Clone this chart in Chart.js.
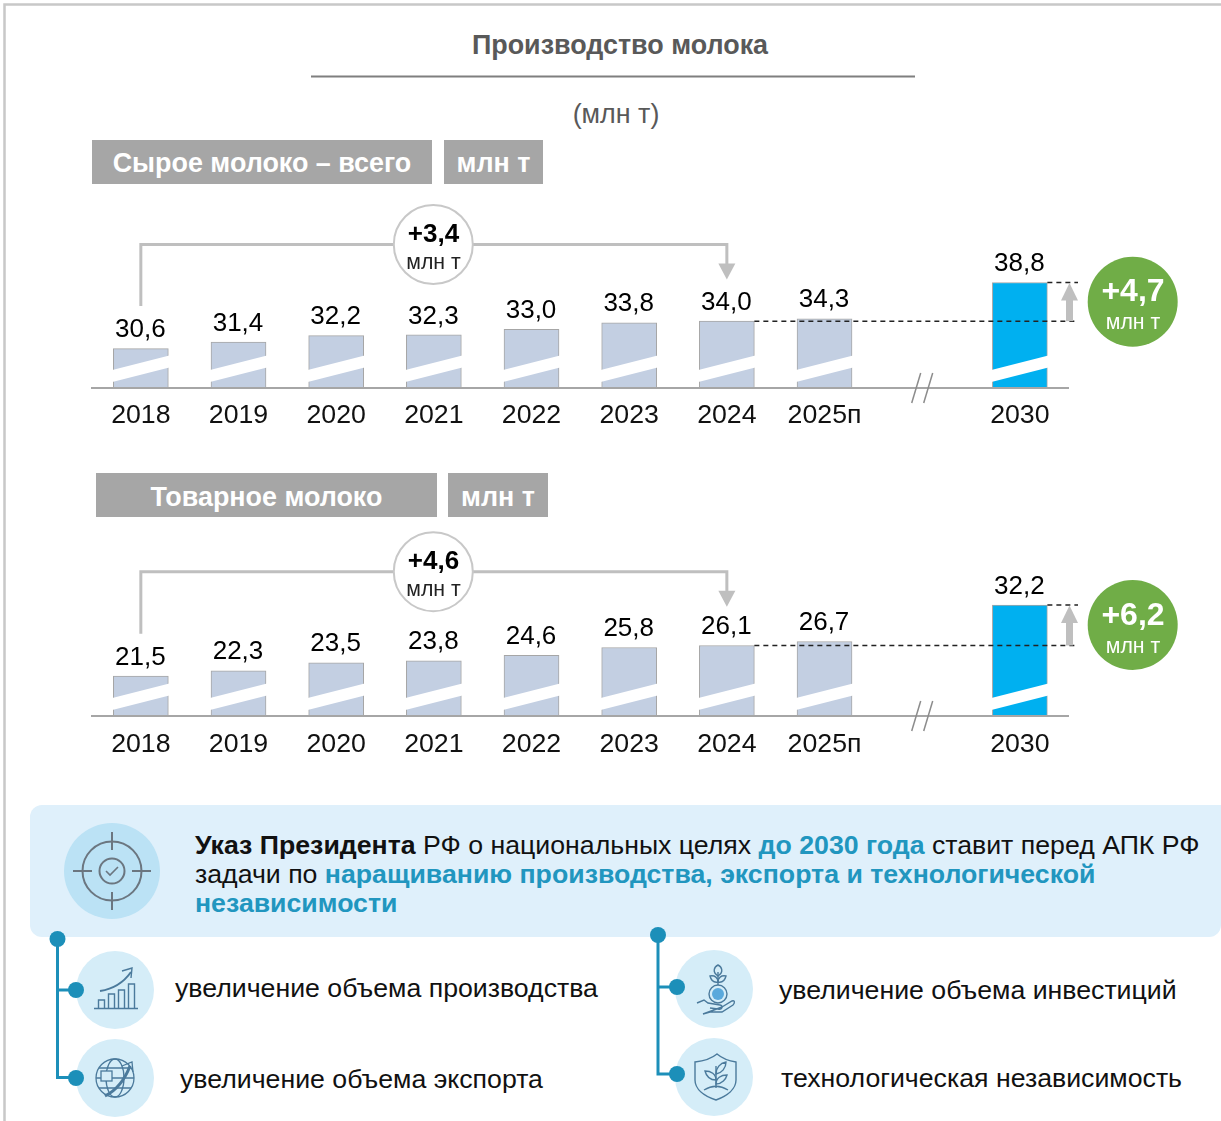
<!DOCTYPE html>
<html>
<head>
    <meta charset="utf-8">
    <title>Производство молока</title>
    <script src="https://cdn.jsdelivr.net/npm/chart.js"></script>
    <style>
        html, body { margin: 0; padding: 0; background: #fff; }
        body { position: relative; width: 1221px; height: 1121px; overflow: hidden; font-family: "Liberation Sans", Arial, sans-serif; }
        svg.layer { position: absolute; left: 0; top: 0; }
        .chart-box { position: absolute; left: 0; width: 1221px; height: 240px; }
        .t { position: absolute; white-space: nowrap; line-height: 1; transform: translateY(-50%); }
        .c { transform: translate(-50%, -50%); }
        .tag { position: absolute; background: #a6a6a6; color: #fff; font-weight: bold; font-size: 26.9px; height: 44px; line-height: 47px; text-align: center; white-space: nowrap; }
        b.blue { color: #2196bf; }
    </style>
</head>
<body>
    <svg class="layer" width="1221" height="1121">
        <path d="M4.5 1121V4.5H1221" fill="none" stroke="#c8c8c8" stroke-width="2.5"/>
        <line x1="311" y1="76.5" x2="915" y2="76.5" stroke="#7f7f7f" stroke-width="2"/>
        <path d="M30 817a12 12 0 0 1 12-12H1221V925a12 12 0 0 1-12 12H42a12 12 0 0 1-12-12z" fill="#dff0fb"/>
        <circle cx="112" cy="871" r="48" fill="#bbe2f5"/>
        <g fill="none" stroke="#6b7680" stroke-width="2">
            <circle cx="112" cy="871" r="29.5"/>
            <circle cx="112" cy="871" r="12.5"/>
            <path d="M112 832V850M112 892V910M73 871H92M132 871H151"/>
            <path d="M106 871l4 4 8-8" stroke-width="1.6"/>
        </g>
        <circle cx="115" cy="990" r="39" fill="#d5edf8"/>
        <circle cx="115" cy="1078" r="39" fill="#d5edf8"/>
        <circle cx="714" cy="989" r="39" fill="#d5edf8"/>
        <circle cx="714" cy="1077" r="39" fill="#d5edf8"/>
        <g fill="none" stroke="#1c8fb9" stroke-width="3">
            <path d="M57.5 939V1077.5H76M57.5 990H76"/>
            <path d="M658 935V1074H677M658 987H677"/>
        </g>
        <g fill="#1c8fb9">
            <circle cx="57.5" cy="939" r="8"/><circle cx="76" cy="990" r="8"/><circle cx="76" cy="1078" r="8"/>
            <circle cx="658" cy="935" r="8"/><circle cx="677" cy="987" r="8"/><circle cx="677" cy="1074" r="8"/>
        </g>
        <!-- bars icon -->
        <g fill="none" stroke="#4b7a9c" stroke-width="1.4">
            <path d="M94 1008.5H138"/>
            <path d="M98.5 1008V1000H104.5V1008M108.5 1008V994H114.5V1008M118.5 1008V990H124.5V1008M128.5 1008V984H134.5V1008"/>
            <path d="M100 991C113 989 124 982 131 972" stroke-width="2"/>
            <path d="M122 971L132 968 131 978"/>
        </g>
        <!-- globe icon -->
        <g fill="none" stroke="#4b7a9c" stroke-width="1.3">
            <circle cx="115" cy="1078" r="19"/>
            <ellipse cx="115" cy="1078" rx="9" ry="19"/>
            <path d="M96 1078H134M99 1068H131M99 1088H131"/>
            <path d="M105 1096C117 1090 125 1079 130 1066" stroke-width="3"/>
            <path d="M122 1066L132 1062 133 1072"/>
            <rect x="101" y="1071" width="11" height="10" fill="#d5edf8"/>
        </g>
        <!-- plant in hand icon -->
        <g fill="none" stroke="#4b7a9c" stroke-width="1.4">
            <circle cx="718" cy="994" r="9"/>
            <circle cx="718" cy="994" r="6" fill="#5aa9dc" stroke="none"/>
            <path d="M718 985V972"/>
            <path d="M718 976C712 972 714 967 718 965 722 967 724 972 718 976Z"/>
            <path d="M718 982C713 983 711 980 710 976 715 975 718 978 718 982ZM718 982C723 983 725 980 726 976 721 975 718 978 718 982Z"/>
            <path d="M697 1003L704 1000 708 1003 720 1005C724 1006 722 1010 718 1009L710 1008M722 1007L732 1001C735 1000 735 1003 733 1005L722 1012 710 1012 703 1014Z"/>
        </g>
        <!-- shield icon -->
        <g fill="none" stroke="#4b7a9c" stroke-width="1.4">
            <path d="M695 1062C704 1061 711 1059 717 1054 723 1059 729 1061 736 1062V1080C736 1089 727 1096 716 1100 704 1096 695 1089 695 1080Z"/>
            <path d="M716 1088V1066"/>
            <path d="M716 1080C709 1080 706 1075 705 1071 711 1071 716 1074 716 1080ZM716 1074C722 1073 726 1068 726 1062 720 1063 716 1068 716 1074ZM716 1084C722 1084 726 1079 727 1075 721 1075 716 1078 716 1084Z"/>
            <path d="M704 1090C712 1085 720 1085 728 1090"/>
        </g>
    </svg>

    <div class="chart-box" style="top: 200px;"><canvas id="chart-raw"></canvas></div>
    <div class="chart-box" style="top: 528px;"><canvas id="chart-market"></canvas></div>

    <div class="t c" style="left: 620px; top: 45px; font-size: 26.9px; font-weight: bold; color: #595959;">Производство молока</div>
    <div class="t c" style="left: 616px; top: 114px; font-size: 26.9px; color: #595959;">(млн т)</div>

    <div class="tag" style="left: 92px; top: 140px; width: 340px;">Сырое молоко – всего</div>
    <div class="tag" style="left: 444px; top: 140px; width: 99px;">млн т</div>
    <div class="tag" style="left: 96px; top: 473px; width: 341px; line-height: 48px;">Товарное молоко</div>
    <div class="tag" style="left: 448px; top: 473px; width: 100px; line-height: 48px;">млн т</div>

    <div class="t c" style="left: 433.5px; top: 233px; font-size: 26px; font-weight: bold; color: #000;">+3,4</div>
    <div class="t c" style="left: 433.5px; top: 263px; font-size: 21.3px; color: #222;">млн т</div>
    <div class="t c" style="left: 433.5px; top: 560px; font-size: 26px; font-weight: bold; color: #000;">+4,6</div>
    <div class="t c" style="left: 433.5px; top: 590px; font-size: 21.3px; color: #222;">млн т</div>

    <div class="t c" style="left: 1133px; top: 290px; font-size: 32px; font-weight: bold; color: #fff;">+4,7</div>
    <div class="t c" style="left: 1133px; top: 323px; font-size: 21.3px; color: #fff;">млн т</div>
    <div class="t c" style="left: 1133px; top: 614px; font-size: 32px; font-weight: bold; color: #fff;">+6,2</div>
    <div class="t c" style="left: 1133px; top: 647px; font-size: 21.3px; color: #fff;">млн т</div>

    <div class="t" style="left: 195px; top: 845px; font-size: 26.7px; color: #111;"><b>Указ Президента</b> РФ о национальных целях <b class="blue">до 2030 года</b> ставит перед АПК РФ</div>
    <div class="t" style="left: 195px; top: 874px; font-size: 26.7px; color: #111;">задачи по <b class="blue">наращиванию производства, экспорта и технологической</b></div>
    <div class="t" style="left: 195px; top: 903px; font-size: 26.7px;"><b class="blue">независимости</b></div>

    <div class="t" style="left: 175px; top: 988px; font-size: 26.7px; color: #111;">увеличение объема производства</div>
    <div class="t" style="left: 180px; top: 1079px; font-size: 26.7px; color: #111;">увеличение объема экспорта</div>
    <div class="t" style="left: 779px; top: 990px; font-size: 26.7px; color: #111;">увеличение объема инвестиций</div>
    <div class="t" style="left: 781px; top: 1078px; font-size: 26.7px; color: #111;">технологическая независимость</div>

    <script>
        'use strict';

        const categories = ['2018', '2019', '2020', '2021', '2022', '2023', '2024', '2025п', '', '2030'];
        const rawMilk = [30.6, 31.4, 32.2, 32.3, 33.0, 33.8, 34.0, 34.3, null, 38.8];
        const marketMilk = [21.5, 22.3, 23.5, 23.8, 24.6, 25.8, 26.1, 26.7, null, 32.2];

        const barColor = '#c3cfe2';
        const targetColor = '#00b0f0';
        const edgeColor = '#a6a6a6';
        const bracketColor = '#bfbfbf';
        const fontFamily = '"Liberation Sans", Arial, sans-serif';

        // White diagonal break across every bar, plus value labels on top
        const barDecor = {
            id: 'barDecor',
            afterDatasetsDraw(chart) {
                const ctx = chart.ctx;
                const base = chart.scales.y.bottom;
                const meta = chart.getDatasetMeta(0);
                ctx.save();
                meta.data.forEach(function (bar, i) {
                    const value = chart.data.datasets[0].data[i];
                    if (value === null) return;
                    const left = bar.x - 28.5;
                    const right = bar.x + 28.5;
                    ctx.fillStyle = '#fff';
                    ctx.beginPath();
                    ctx.moveTo(left, base - 18);
                    ctx.lineTo(right, base - 32.5);
                    ctx.lineTo(right, base - 20.5);
                    ctx.lineTo(left, base - 6);
                    ctx.closePath();
                    ctx.fill();

                    ctx.fillStyle = '#000';
                    ctx.font = '26px ' + fontFamily;
                    ctx.textAlign = 'center';
                    ctx.textBaseline = 'middle';
                    ctx.fillText(value.toFixed(1).replace('.', ','), bar.x - 0.5, bar.y - 18.5);
                });
                ctx.restore();
            }
        };

        // Bracket, break in the axis, reference lines and growth badge
        const overlay = {
            id: 'overlay',
            afterDraw(chart) {
                const ctx = chart.ctx;
                const x = chart.scales.x;
                const y = chart.scales.y;
                const data = chart.data.datasets[0].data;
                const o = chart.options.plugins.overlay;
                const base = y.bottom;
                const x0 = x.getPixelForValue(0);
                const x6 = x.getPixelForValue(6);
                const x8 = x.getPixelForValue(8);
                const x9 = x.getPixelForValue(9);
                const y6 = y.getPixelForValue(data[6]);
                const y9 = y.getPixelForValue(data[9]);

                ctx.save();
                // bracket from first bar to 2024
                ctx.strokeStyle = bracketColor;
                ctx.lineWidth = 3;
                ctx.beginPath();
                ctx.moveTo(x0, o.bracketFrom);
                ctx.lineTo(x0, o.bracketY);
                ctx.lineTo(x6, o.bracketY);
                ctx.lineTo(x6, o.bracketY + 20);
                ctx.stroke();
                ctx.fillStyle = bracketColor;
                ctx.beginPath();
                ctx.moveTo(x6 - 8.5, o.bracketY + 19);
                ctx.lineTo(x6 + 8.5, o.bracketY + 19);
                ctx.lineTo(x6, o.bracketY + 35);
                ctx.closePath();
                ctx.fill();

                // circle on the bracket
                ctx.fillStyle = '#fff';
                ctx.lineWidth = 2;
                ctx.strokeStyle = '#c8c8c8';
                ctx.beginPath();
                ctx.arc(433.3, o.bracketY, 39.5, 0, Math.PI * 2);
                ctx.fill();
                ctx.stroke();

                // axis break
                ctx.strokeStyle = '#8c8c8c';
                ctx.lineWidth = 1.5;
                [-5.5, 6.5].forEach(function (d) {
                    ctx.beginPath();
                    ctx.moveTo(x8 + d - 5, base + 15);
                    ctx.lineTo(x8 + d + 4, base - 15);
                    ctx.stroke();
                });

                // dashed reference lines
                ctx.strokeStyle = '#222';
                ctx.lineWidth = 1.5;
                ctx.setLineDash([5, 4]);
                ctx.beginPath();
                ctx.moveTo(x6 + 27.5, y6);
                ctx.lineTo(1078, y6);
                ctx.moveTo(x9 + 27.5, y9);
                ctx.lineTo(1078, y9);
                ctx.stroke();
                ctx.setLineDash([]);

                // grey growth arrow
                ctx.fillStyle = bracketColor;
                ctx.fillRect(1066, y9 + 17, 7, y6 - y9 - 17);
                ctx.beginPath();
                ctx.moveTo(1069.5, y9 + 0.5);
                ctx.lineTo(1078, y9 + 18);
                ctx.lineTo(1061, y9 + 18);
                ctx.closePath();
                ctx.fill();

                // green badge
                ctx.fillStyle = '#70ad47';
                ctx.beginPath();
                ctx.arc(1132.7, o.badgeY, 45, 0, Math.PI * 2);
                ctx.fill();
                ctx.restore();
            }
        };

        function makeChart(id, values, yMin, yMax, tickPadding, overlayOpts) {
            return new Chart(document.getElementById(id), {
                type: 'bar',
                plugins: [barDecor, overlay],
                data: {
                    labels: categories,
                    datasets: [{
                        data: values,
                        backgroundColor: values.map(function (v, i) { return i === 9 ? targetColor : barColor; }),
                        borderColor: edgeColor,
                        borderWidth: { top: 1, left: 1, right: 1, bottom: 0 },
                        barThickness: 55
                    }]
                },
                options: {
                    responsive: true,
                    maintainAspectRatio: false,
                    animation: false,
                    layout: { padding: { left: 92, right: 152.3, top: 0, bottom: 0 } },
                    scales: {
                        x: {
                            grid: { display: false },
                            border: { display: true, color: edgeColor, width: 2, z: 1 },
                            afterFit: function (scale) { scale.height = 52; },
                            ticks: {
                                color: '#111',
                                padding: tickPadding,
                                autoSkip: false,
                                maxRotation: 0,
                                font: { family: fontFamily, size: 26.7 }
                            }
                        },
                        y: { display: false, min: yMin, max: yMax }
                    },
                    plugins: {
                        legend: { display: false },
                        tooltip: { enabled: false },
                        overlay: overlayOpts
                    }
                }
            });
        }

        makeChart('chart-raw', rawMilk, 25.7, 49.05, 4, { bracketY: 44.5, bracketFrom: 106, badgeY: 101.7 });
        makeChart('chart-market', marketMilk, 15.48, 43.79, 5, { bracketY: 43.7, bracketFrom: 105.7, badgeY: 97 });
    </script>
</body>
</html>
